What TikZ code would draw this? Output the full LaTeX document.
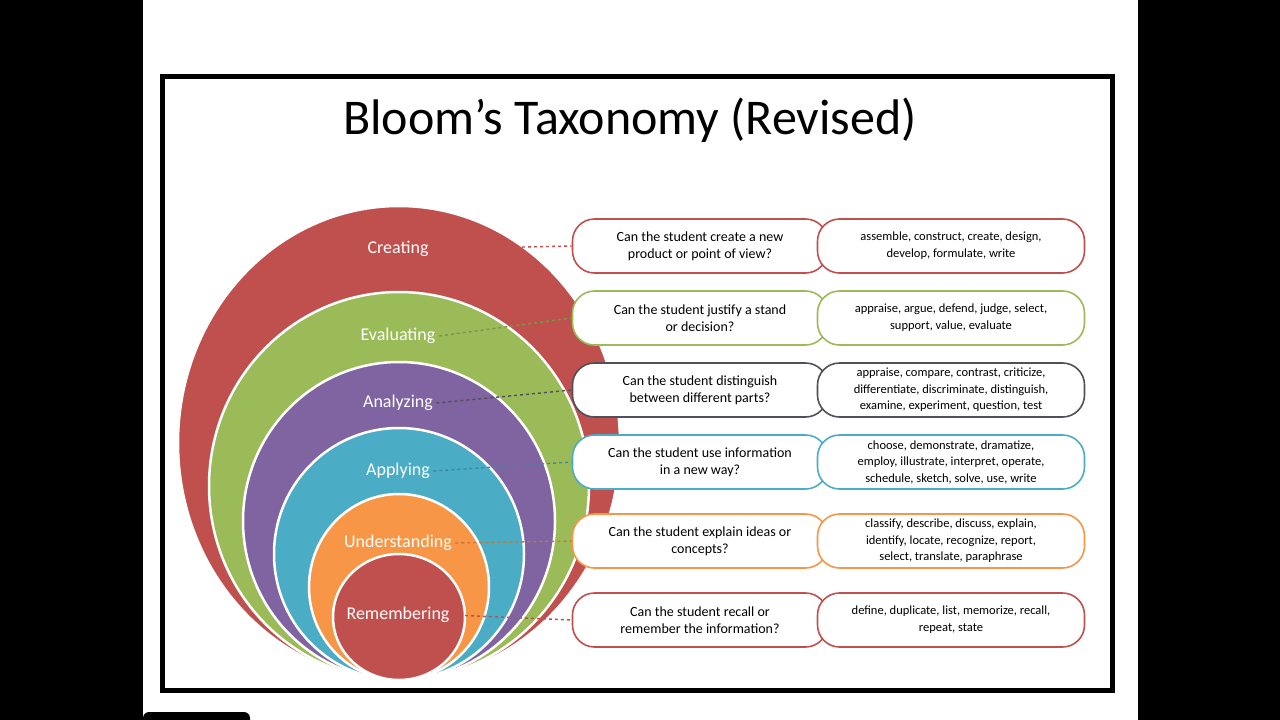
\documentclass[tikz,border=0pt]{standalone}
\usepackage{fontspec}
\setmainfont{Carlito}
\begin{document}
\begin{tikzpicture}[x=1pt,y=-1pt,
  ring/.style={draw=white,line width=2.5pt},
  lvl/.style={text=white,font=\fontsize{18}{20}\selectfont},
  qbox/.style={draw=#1,line width=1.6pt,fill=white,rounded corners=22pt,minimum width=255pt,minimum height=54pt,align=center,font=\fontsize{14}{17}\selectfont,inner sep=2pt},
  wbox/.style={draw=#1,line width=1.6pt,fill=white,rounded corners=22pt,minimum width=267pt,minimum height=54pt,align=center,font=\fontsize{12.5}{17}\selectfont,inner sep=2pt},
  conn/.style={draw=#1,dashed,line width=1.4pt}]
\definecolor{cRed}{RGB}{192,80,77}
\definecolor{cGreen}{RGB}{155,187,89}
\definecolor{cPurple}{RGB}{128,100,162}
\definecolor{cCyan}{RGB}{75,172,198}
\definecolor{cOrange}{RGB}{247,150,70}
\definecolor{cDark}{RGB}{80,80,90}
\useasboundingbox (0,0) rectangle (1280,720);
\fill[black] (0,0) rectangle (1280,720);
\fill[white] (143,0) rectangle (1138,720);
\fill[black,rounded corners=6pt] (143,712) rectangle (250,726);
\draw[line width=5pt] (162.5,76.5) rectangle (1112.5,690);
\node[font=\fontsize{50}{56}\selectfont] (title) at (630,120) {Bloom’s Taxonomy (Revised)};
% rings
\fill[cRed,ring] (399,443) ellipse [x radius=221,y radius=237];
\fill[cGreen,ring] (399,486) ellipse [x radius=190,y radius=194];
\fill[cPurple,ring] (399,521) ellipse [x radius=156,y radius=159];
\fill[cCyan,ring] (399,554) ellipse [x radius=125,y radius=126];
\fill[cOrange,ring] (399,587) ellipse [x radius=90,y radius=93];
\fill[cRed,ring] (399,617) ellipse [x radius=66,y radius=63];
\node[lvl] (l1) at (398,249) {Creating};
\node[lvl] (l2) at (398,336) {Evaluating};
\node[lvl] (l3) at (398,403) {Analyzing};
\node[lvl] (l4) at (398,471) {Applying};
\node[lvl] (l5) at (398,543) {Understanding};
\node[lvl] (l6) at (398,615) {Remembering};
% question boxes
\node[qbox=cRed] (q1) at (700,246) {Can the student create a new\\product or point of view?};
\node[qbox=cGreen] (q2) at (700,318) {Can the student justify a stand\\or decision?};
\node[qbox=cDark] (q3) at (700,390) {Can the student distinguish\\between different parts?};
\node[qbox=cCyan] (q4) at (700,462) {Can the student use information\\in a new way?};
\node[qbox=cOrange] (q5) at (700,541) {Can the student explain ideas or\\concepts?};
\node[qbox=cRed] (q6) at (700,620) {Can the student recall or\\remember the information?};
\node[wbox=cRed] (w1) at (951,246) {assemble, construct, create, design,\\develop, formulate, write};
\node[wbox=cGreen] (w2) at (951,318) {appraise, argue, defend, judge, select,\\support, value, evaluate};
\node[wbox=cDark,font=\fontsize{12.5}{16.5}\selectfont] (w3) at (951,390) {appraise, compare, contrast, criticize,\\differentiate, discriminate, distinguish,\\examine, experiment, question, test};
\node[wbox=cCyan,font=\fontsize{12.5}{16.5}\selectfont] (w4) at (951,462) {choose, demonstrate, dramatize,\\employ, illustrate, interpret, operate,\\schedule, sketch, solve, use, write};
\node[wbox=cOrange,font=\fontsize{12.5}{16.5}\selectfont] (w5) at (951,541) {classify, describe, discuss, explain,\\identify, locate, recognize, report,\\select, translate, paraphrase};
\node[wbox=cRed] (w6) at (951,620) {define, duplicate, list, memorize, recall,\\repeat, state};
% connectors
\draw[conn=cRed] (l1.east) -- (q1.west);
\draw[conn=cGreen!80!black] (l2.east) -- (q2.west);
\draw[conn=cDark] (l3.east) -- (q3.west);
\draw[conn=cCyan!80!black] (l4.east) -- (q4.west);
\draw[conn=cOrange!80!black] (l5.east) -- (q5.west);
\draw[conn=cRed] (l6.east) -- (q6.west);
\end{tikzpicture}
\end{document}
